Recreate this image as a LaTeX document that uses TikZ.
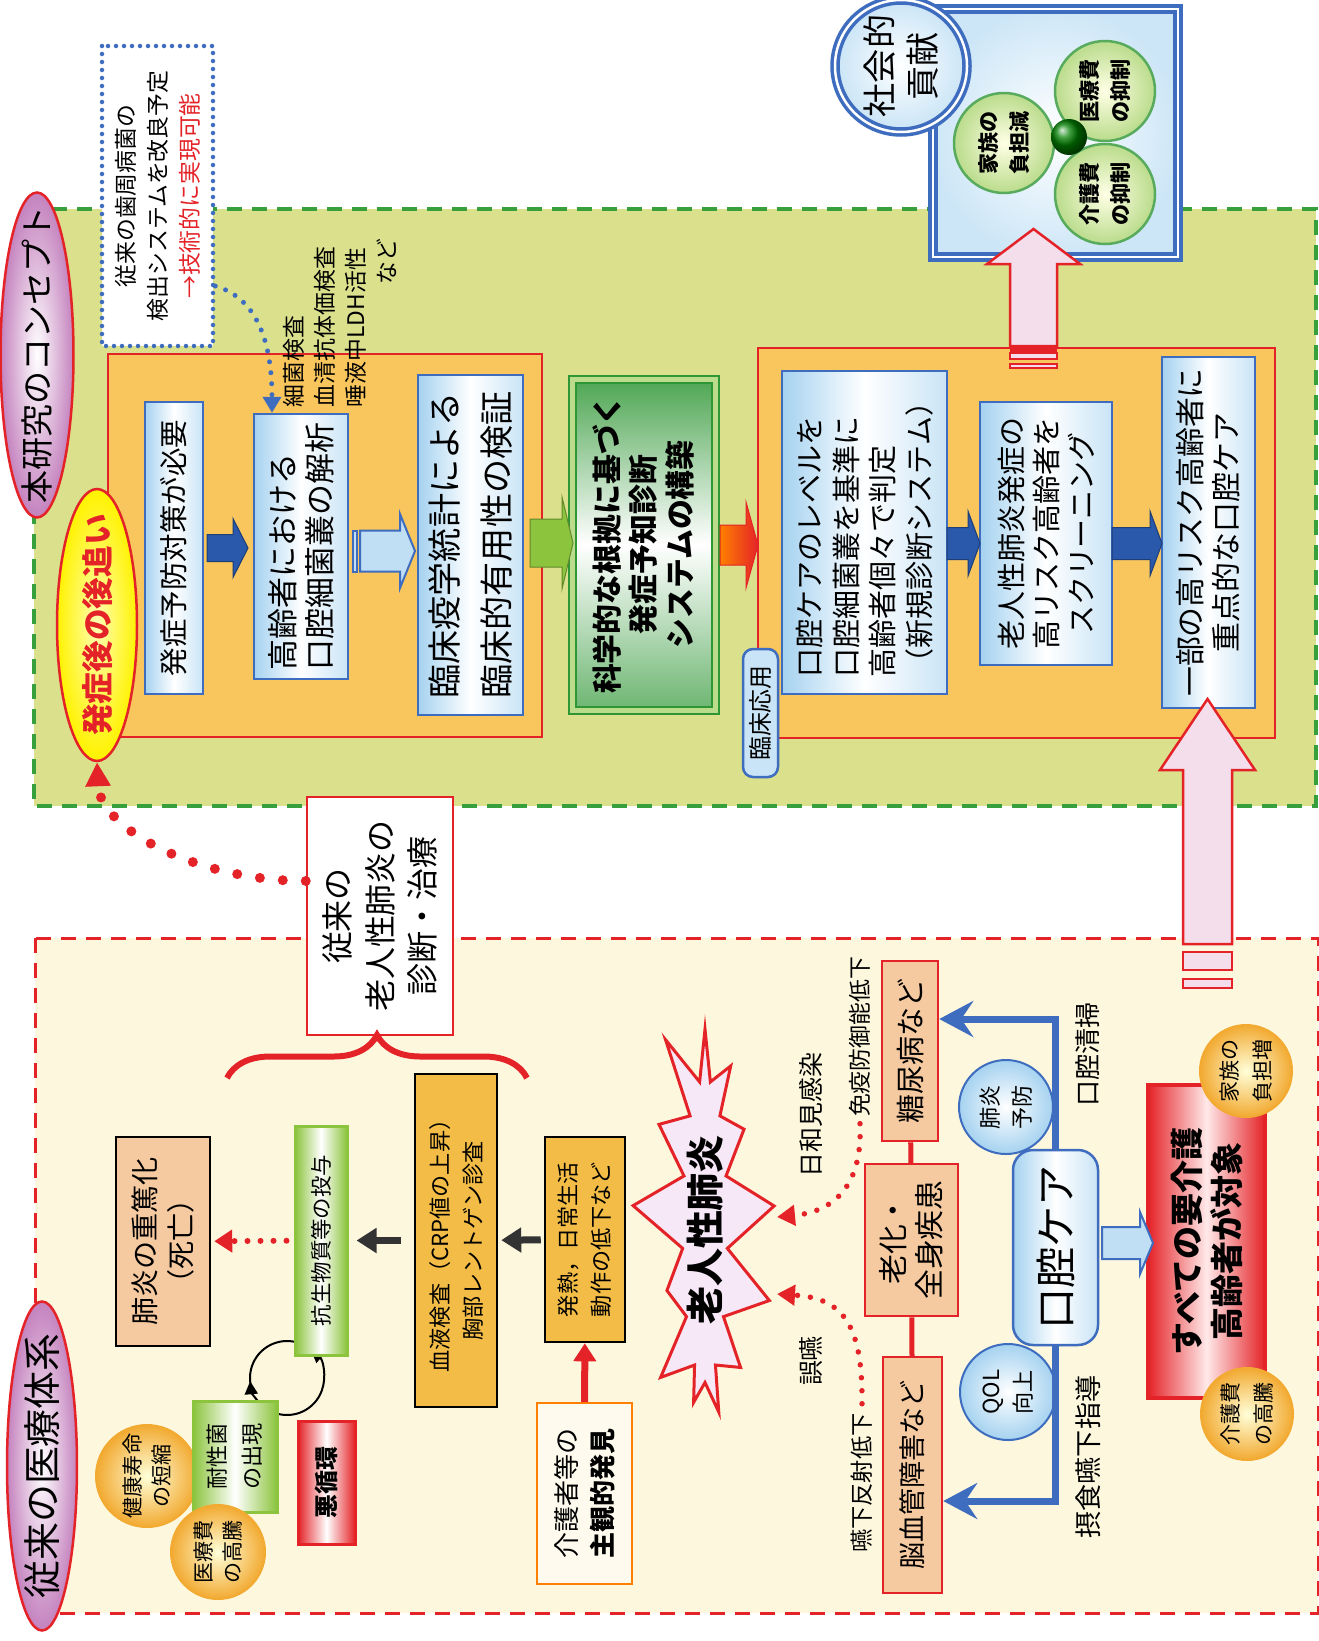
\documentclass[tikz,border=0pt]{standalone}
\usepackage{fontspec}
\setmainfont{Noto Sans CJK JP}
\usetikzlibrary{calc,positioning,arrows.meta,shapes.geometric,shapes.symbols,decorations.pathreplacing}

\definecolor{leaf}{RGB}{218,224,140}
\definecolor{leafline}{RGB}{55,160,60}
\definecolor{cream}{RGB}{253,248,221}
\definecolor{redline}{RGB}{228,35,40}
\definecolor{amber}{RGB}{248,198,92}
\definecolor{skyline}{RGB}{62,108,190}
\definecolor{sky}{RGB}{165,210,240}
\definecolor{gold}{RGB}{242,188,70}
\definecolor{peach}{RGB}{246,202,160}
\definecolor{navy}{RGB}{42,88,170}
\definecolor{pinkfill}{RGB}{244,222,236}
\definecolor{lavender}{RGB}{246,232,246}
\definecolor{grass}{RGB}{140,196,62}
\definecolor{kelly}{RGB}{46,150,52}
\definecolor{orchid}{RGB}{196,130,190}
\definecolor{tangerine}{RGB}{242,170,50}

\newcommand\fs[2]{\fontsize{#1}{#2}\selectfont}
\newcommand\harrow[7]{\draw[#1] (#2,{#4-#5}) -- ({#3-#7},{#4-#5}) -- ({#3-#7},{#4-#6}) -- (#3,#4) -- ({#3-#7},{#4+#6}) -- ({#3-#7},{#4+#5}) -- (#2,{#4+#5}) -- cycle;}
\newcommand\varrow[7]{\draw[#1] ({#2-#5},#3) -- ({#2-#5},{#4+#7}) -- ({#2-#6},{#4+#7}) -- (#2,#4) -- ({#2+#6},{#4+#7}) -- ({#2+#5},{#4+#7}) -- ({#2+#5},#3) -- cycle;}

\tikzset{
  rot/.style={rotate=90, inner sep=0pt, align=center},
  skybox/.style={rot, draw=skyline, line width=0.25mm, left color=sky, right color=sky!60, middle color=white},
  goldbox/.style={rot, draw=black, line width=0.25mm, fill=gold},
  peachbox/.style={rot, draw=redline, line width=0.25mm, fill=peach},
  leafbox/.style={rot, draw=grass, line width=0.3mm, left color=grass, right color=grass, middle color=white},
  rosebox/.style={rot, draw=redline, line width=0.3mm, left color=redline, right color=redline, middle color=white},
  orangeball/.style={rot, circle, draw=tangerine, line width=0.2mm, inner color=yellow!15, outer color=tangerine},
  blueball/.style={rot, circle, draw=skyline, line width=0.2mm, inner color=white, outer color=sky},
  greenball/.style={rot, circle, draw=kelly!80, line width=0.25mm, inner color=yellow!10, outer color=grass!60, minimum size=10mm, font=\fs{6}{9}\bfseries},
  tag/.style={rot},
  bigdots/.style={redline, line width=1mm, dash pattern=on 0pt off 2.3mm, line cap=round},
  smalldots/.style={redline, line width=0.6mm, dash pattern=on 0pt off 1.3mm, line cap=round},
  bluedots/.style={skyline, line width=0.5mm, dash pattern=on 0pt off 1.1mm, line cap=round},
  navyarrow/.style={fill=navy, draw=navy!70!black, line width=0.1mm},
  skyarrow/.style={fill=sky!70, draw=skyline, line width=0.2mm},
  grassarrow/.style={fill=grass, draw=grass!70!black, line width=0.1mm},
  firearrow/.style={left color=orange, right color=redline, draw=redline, line width=0.1mm},
  pinkarrow/.style={fill=pinkfill, draw=redline, line width=0.25mm},
  darkline/.style={line width=0.7mm, black!80, -{Triangle[length=2mm,width=2.4mm]}},
  careline/.style={skyline, line width=0.7mm, -{Stealth[length=3.4mm,width=3.6mm,inset=1.2mm]}}
}

\begin{document}
\begin{tikzpicture}[x=0.1mm, y=-0.1mm]
\useasboundingbox (0,0) rectangle (1319,1641);
\fill[white] (0,0) rectangle (1319,1641);

\draw[leafline, line width=0.35mm, dash pattern=on 1.5mm off 1mm, fill=leaf] (34,209) rectangle (1316,806);
\draw[redline, line width=0.3mm, dash pattern=on 1.5mm off 1mm, fill=cream] (35,938) rectangle (1318,1613);

\node[draw=redline, line width=0.2mm, fill=amber, minimum width=43.4mm, minimum height=38.3mm] (groupA) at (325,545.5) {};
\node[draw=redline, line width=0.2mm, fill=amber, minimum width=51.7mm, minimum height=39mm] (groupB) at (1016.5,543) {};

\node[ellipse, draw=redline, line width=0.25mm, inner color=white, outer color=orchid, minimum width=7.3mm, minimum height=32.5mm] (honken) at (37,355) {};
\node[rot, font=\fs{9.4}{10}] (honkenT) at (honken) {本研究のコンセプト};
\node[ellipse, draw=redline, line width=0.25mm, inner color=yellow!30, outer color=yellow!90!orange, minimum width=8mm, minimum height=27.2mm] (atooi) at (97,625) {};
\node[rot, text=redline, font=\fs{9}{10}\bfseries] (atooiT) at (atooi) {発症後の後追い};

\node[rot, draw=skyline, line width=0.45mm, dash pattern=on 0pt off 0.8mm, line cap=round, fill=white, minimum width=30mm, minimum height=11.1mm, font=\fs{6.5}{9.1}] (callout) at (157.5,196) {従来の歯周病菌の\\検出システムを改良予定\\\textcolor{redline}{→技術的に実現可能}};
\node[rot, text width=16.8mm, align=left, font=\fs{6.5}{8.8}] (kensa) at (340,323) {細菌検査\\血清抗体価検査\\唾液中LDH活性\\\hfill など};

\node[skybox, minimum width=29.2mm, minimum height=5.8mm, font=\fs{8.1}{10}] (hasshou) at (174,548) {発症予防対策が必要};
\node[skybox, align=left, minimum width=26.5mm, minimum height=9.4mm, font=\fs{8.8}{10.5}] (koreisha) at (301,546.5) {高齢者における\\口腔細菌叢の解析};
\node[skybox, align=left, minimum width=34mm, minimum height=10.5mm, font=\fs{9.7}{14.8}] (rinshou) at (470.5,545) {臨床疫学統計による\\臨床的有用性の検証};
\node[rot, draw=kelly, line width=0.2mm, double=grass!60, double distance=0.5mm, top color=kelly!85, bottom color=kelly!70, middle color=white, minimum width=33.1mm, minimum height=14.3mm, font=\fs{8.5}{10.5}\bfseries] (kagaku) at (643.5,544.5) {科学的な根拠に基づく\\発症予知診断\\システムの構築};
\node[skybox, align=left, minimum width=32.3mm, minimum height=16.5mm, font=\fs{8.25}{10.4}] (careLv) at (864.5,532.5) {口腔ケアのレベルを\\口腔細菌叢を基準に\\高齢者個々で判定\\（新規診断システム）};
\node[skybox, minimum width=26.3mm, minimum height=13.2mm, font=\fs{8.25}{10}] (screening) at (1046,533.5) {老人性肺炎発症の\\高リスク高齢者を\\スクリーニング};
\node[skybox, minimum width=35.1mm, minimum height=9.3mm, font=\fs{8.5}{10.2}] (juten) at (1208.5,532.5) {一部の高リスク高齢者に\\重点的な口腔ケア};
\node[rot, draw=skyline, line width=0.25mm, fill=sky!60, rounded corners=1mm, minimum width=12.8mm, minimum height=3.5mm, font=\fs{6.8}{8}] (ouyou) at (760.5,713) {臨床応用};

\harrow{navyarrow}{207}{248}{548}{13.5}{29.5}{15}
\harrow{skyarrow}{360}{415}{551}{20.5}{37}{15}
\draw[skyarrow] (353,530.5) rectangle (357,571.5);
\harrow{grassarrow}{530}{573}{543}{24}{46}{11}
\harrow{firearrow}{720}{758}{545}{20}{43}{12}
\harrow{navyarrow}{947}{980}{543.5}{16}{32.5}{12}
\harrow{navyarrow}{1112}{1162}{543.5}{16}{32.5}{12}

\draw[bluedots, -{Triangle[length=1.6mm,width=1.8mm]}] ([yshift=-9mm]callout.south) .. controls (250,296) and (272,330) .. ([xshift=-2.9mm]koreisha.east);

\node[draw=skyline, line width=0.35mm, double=white, double distance=0.25mm, inner color=white, outer color=sky!55, minimum width=24.5mm, minimum height=24.8mm] (panel) at (1055.5,133) {};
\varrow{pinkarrow}{1033.5}{346}{229}{23.5}{46.5}{35}
\fill[redline] (1010,346) rectangle (1057,352);
\draw[pinkarrow] (1010,353) rectangle (1057,359);
\draw[pinkarrow] (1010,364) rectangle (1057,368);
\node[rot, circle, draw=skyline, line width=0.35mm, double=white, double distance=0.25mm, inner color=white, outer color=sky!60, minimum size=13.2mm, font=\fs{9.7}{12}] (shakai) at (901,66) {社会的\\貢献};
\node[greenball] (kazokuA) at (1004,143) {家族の\\負担減};
\node[greenball] (iryouA) at (1105,91) {医療費\\の抑制};
\node[greenball] (kaigoA) at (1105,194) {介護費\\の抑制};
\node[circle, ball color=green!50!black, minimum size=3.6mm] (hub) at (1069,137) {};

\varrow{pinkarrow}{1207.5}{944}{699}{24.5}{47.5}{71}
\draw[pinkarrow] (1183,952) rectangle (1232,970);
\draw[pinkarrow] (1183,979) rectangle (1232,988);

\node[ellipse, draw=redline, line width=0.25mm, inner color=white, outer color=orchid, minimum width=7mm, minimum height=32.9mm] (juurai) at (42,1466) {};
\node[rot, font=\fs{10.8}{12}] (juuraiT) at (juurai) {従来の医療体系};

\node[rot, draw=redline, line width=0.25mm, fill=white, minimum width=23.8mm, minimum height=14.6mm, font=\fs{9.1}{12}] (shindan) at (380,916) {従来の\\老人性肺炎の\\診断・治療};
\draw[bigdots, -{Triangle[length=2.4mm,width=2.4mm]}] ([yshift=3.5mm]shindan.north) .. controls (200,881) and (100,830) .. (atooi.south);
\coordinate (bL) at (227,1078);
\coordinate (bR) at (527,1078);
\draw[redline, line width=0.6mm, decorate, decoration={brace, amplitude=4.3mm}] (bL) -- (bR);

\draw[line width=0.2mm, -{Triangle[length=1.3mm,width=1.3mm]}] (287,1378) ++(110:37) arc[start angle=110, end angle=-50, radius=37];
\draw[line width=0.2mm, -{Triangle[length=1.3mm,width=1.3mm]}] (287,1378) ++(130:37) arc[start angle=130, end angle=175, radius=37];
\draw[line width=0.2mm] (287,1378) ++(170:37) arc[start angle=170, end angle=300, radius=37];

\node[goldbox, minimum width=33.3mm, minimum height=8.2mm, font=\fs{6.3}{9.4}] (ketsueki) at (456,1240.5) {血液検査（CRP値の上昇）\\胸部レントゲン診査};
\node[goldbox, align=left, minimum width=20.5mm, minimum height=8mm, font=\fs{6.3}{9.4}] (hatsunetsu) at (585,1239.5) {発熱，日常生活\\動作の低下など};
\node[rot, draw=orange, line width=0.2mm, fill=cream!50, minimum width=18.1mm, minimum height=9.5mm, font=\fs{7.4}{10.2}] (kaigo) at (584.5,1493.5) {介護者等の\\\textbf{主観的発見}};
\node[leafbox, minimum width=22.9mm, minimum height=5.2mm, font=\fs{6.1}{7}] (kousei) at (321,1240.5) {抗生物質等の投与};
\node[rot, draw=black, line width=0.25mm, fill=peach, minimum width=20.9mm, minimum height=9.4mm, font=\fs{8}{10.5}] (juutoku) at (163,1241.5) {肺炎の重篤化\\（死亡）};
\node[orangeball, minimum size=10.2mm, font=\fs{6}{8}] (kenkou) at (147,1476) {健康寿命\\の短縮};
\node[leafbox, minimum width=11.1mm, minimum height=8.4mm, font=\fs{6.3}{10}] (taisei) at (235,1456.5) {耐性菌\\の出現};
\node[orangeball, minimum size=9.4mm, font=\fs{6}{8}] (iryouhi) at (218,1552) {医療費\\の高騰};
\node[rosebox, minimum width=12.3mm, minimum height=5.7mm, font=\fs{6.8}{8}\bfseries] (akujun) at (326.5,1482.5) {悪循環};

\draw[darkline, shorten <=0.3mm, shorten >=0.3mm] (hatsunetsu) -- (ketsueki);
\draw[darkline, shorten <=1.3mm, shorten >=0.8mm] (ketsueki) -- (kousei);
\draw[redline, line width=0.7mm, -{Triangle[length=1.8mm,width=2.2mm]}] (kaigo) -- (hatsunetsu);
\draw[smalldots, -{Triangle[length=1.8mm,width=2.2mm]}, shorten <=0.7mm, shorten >=0.3mm] (kousei) -- (juutoku);

\node[starburst, starburst points=13, starburst point height=6.5mm, random starburst=11, draw=redline, line width=0.3mm, fill=lavender, inner sep=0pt, minimum width=17.5mm, minimum height=43.5mm] (pneu) at (705,1230) {};
\node[rot, font=\fs{10.8}{12}\bfseries] (pneuT) at (pneu) {老人性肺炎};

\node[peachbox, minimum width=18mm, minimum height=5.6mm, font=\fs{8.25}{9}] (tounyou) at (910,1051) {糖尿病など};
\node[peachbox, minimum width=15.2mm, minimum height=9.3mm, font=\fs{8.5}{10.2}] (rouka) at (911.5,1240) {老化・\\全身疾患};
\node[peachbox, minimum width=23.6mm, minimum height=5.9mm, font=\fs{7.7}{9}] (nouketsu) at (912.5,1475) {脳血管障害など};
\draw[redline, line width=0.5mm] (tounyou) -- (rouka);
\draw[redline, line width=0.5mm] (rouka) -- (nouketsu);

\node[tag, font=\fs{7.1}{8}] (hiyori) at (811,1115) {日和見感染};
\node[tag, font=\fs{7.1}{8}] (goen) at (811,1361) {誤嚥};
\node[tag, font=\fs{6.5}{8}] (meneki) at (860,1037) {免疫防御能低下};
\node[tag, font=\fs{6.6}{8}] (enge) at (862,1483) {嚥下反射低下};
\coordinate (hitA) at ($(pneu.center)+(72,-13)$);
\coordinate (hitB) at ($(pneu.center)+(72,64)$);
\draw[smalldots, line width=0.55mm, -{Triangle[length=1.8mm,width=2mm]}] ([yshift=-0.6mm]meneki.west) .. controls (863,1190) and (830,1212) .. (hitA);
\draw[smalldots, line width=0.55mm, -{Triangle[length=1.8mm,width=2mm]}] ([yshift=0.9mm]enge.east) .. controls (863,1320) and (840,1298) .. (hitB);

\node[blueball, minimum size=9.4mm, font=\fs{6.3}{9}] (haien) at (1006,1107) {肺炎\\予防};
\node[blueball, minimum size=9.6mm, font=\fs{6.3}{9}] (qol) at (1008,1392) {QOL\\向上};
\node[skybox, rounded corners=2mm, minimum width=19.5mm, minimum height=8.5mm, font=\fs{11.7}{13}] (kouku) at (1055.5,1247.5) {口腔ケア};
\draw[careline] (kouku.east) |- ([yshift=3.2mm]tounyou.south);
\draw[careline] (kouku.west) |- ([yshift=-2.6mm]nouketsu.south);
\node[tag, font=\fs{7.4}{8}] (seisou) at (1088,1054) {口腔清掃};
\node[tag, font=\fs{7.7}{8}] (sesshoku) at (1088,1457) {摂食嚥下指導};

\node[rot, draw=redline, line width=0.4mm, left color=redline, right color=redline, middle color=pink!35, minimum width=31.3mm, minimum height=11.7mm, font=\fs{9.4}{11.4}\bfseries] (subete) at (1206.5,1241.5) {すべての要介護\\高齢者が対象};
\harrow{skyarrow}{1102}{1153}{1243}{16}{31}{13}
\node[orangeball, minimum size=9.2mm, font=\fs{6}{9.5}] (kazoku) at (1246,1071) {家族の\\負担増};
\node[orangeball, minimum size=9.2mm, font=\fs{6}{9.5}] (kaigohi) at (1247,1414) {介護費\\の高騰};
\end{tikzpicture}
\end{document}
